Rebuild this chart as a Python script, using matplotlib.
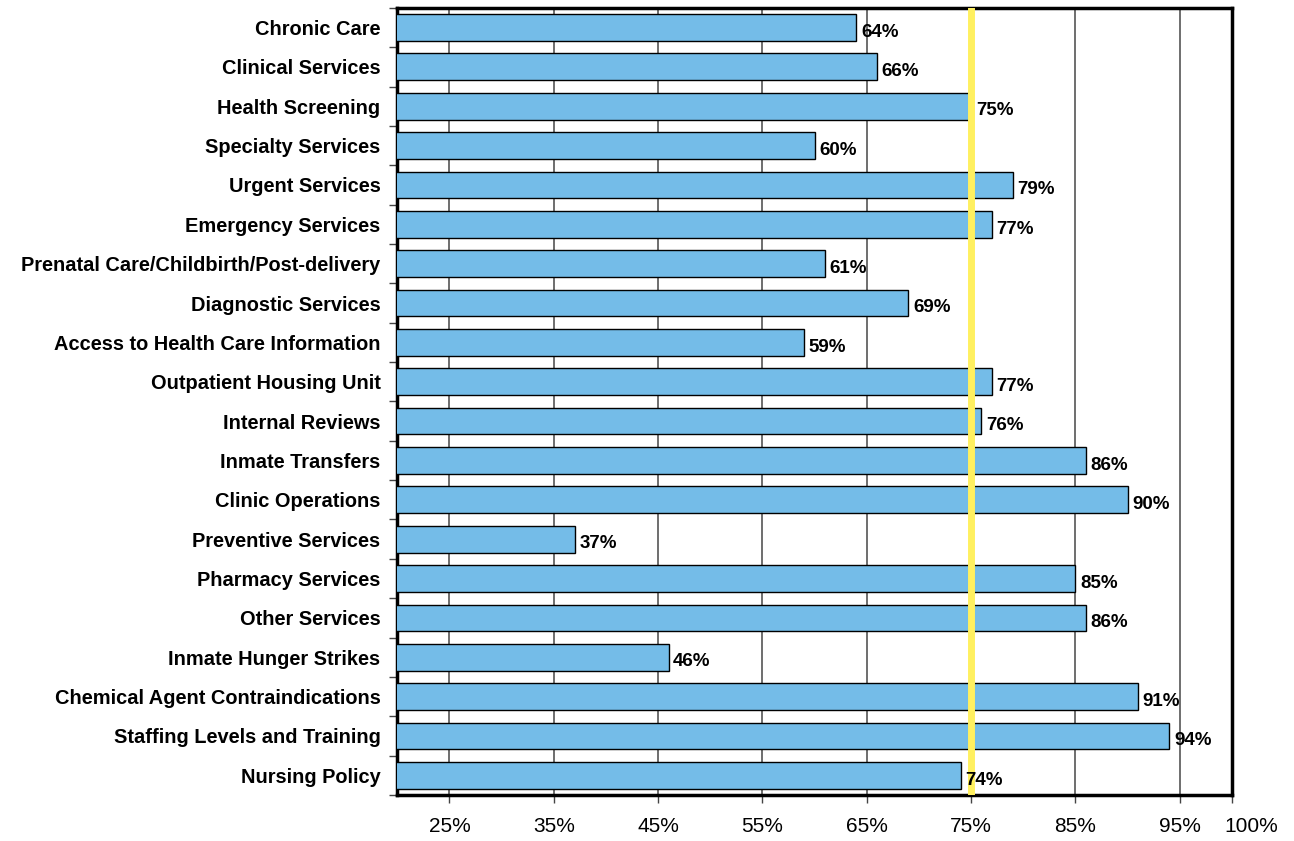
import numpy as np
import matplotlib.pyplot as plt
import matplotlib.transforms as mtransforms

categories = ['Chronic Care', 'Clinical Services', 'Health Screening', 'Specialty Services',
              'Urgent Services', 'Emergency Services', 'Prenatal Care/Childbirth/Post-delivery',
              'Diagnostic Services', 'Access to Health Care Information', 'Outpatient Housing Unit',
              'Internal Reviews', 'Inmate Transfers', 'Clinic Operations', 'Preventive Services',
              'Pharmacy Services', 'Other Services', 'Inmate Hunger Strikes',
              'Chemical Agent Contraindications', 'Staffing Levels and Training', 'Nursing Policy']
scores = [64, 66, 75, 60, 79, 77, 61, 69, 59, 77, 76, 86, 90, 37, 85, 86, 46, 91, 94, 74]
xticks = [25, 35, 45, 55, 65, 75, 85, 95, 100]
threshold = 75

plt.rcParams['font.family'] = ['Liberation Sans', 'DejaVu Sans']

fig = plt.figure(figsize=(12.94, 8.41), dpi=100)
ax = fig.add_axes([0.307, 0.0547, 0.645, 0.936])

y = np.arange(len(categories))
ax.barh(y, scores, height=0.68, color='#74BCE8', edgecolor='black', linewidth=1.0, zorder=3)
ax.axvline(threshold, color='#FFF060', linewidth=5, zorder=4)
for yi, v in zip(y, scores):
    ax.text(v + 0.45, yi + 0.12, f'{v}%', va='center', ha='left', fontsize=13.5,
            fontweight='bold', zorder=5)

ax.set_xlim(20, 100)
ax.set_ylim(len(categories) - 0.5, -0.5)
ax.set_xticks(xticks)
ax.set_xticklabels([f'{t}%' for t in xticks], fontsize=15)
ax.set_yticks(y)
ax.set_yticklabels(categories, fontsize=14.4, fontweight='bold')
ax.set_yticks(np.arange(len(categories) + 1) - 0.5, minor=True)
ax.tick_params(axis='y', which='major', length=0, pad=12)
ax.tick_params(axis='y', which='minor', length=6, width=1, color='#444444')
ax.tick_params(axis='x', length=6, width=1, pad=10, color='#444444')

# the 100% label sits a bit right of its tick, as in the original
lbl = ax.get_xticklabels()[-1]
lbl.set_transform(lbl.get_transform() + mtransforms.ScaledTranslation(0.19, 0, fig.dpi_scale_trans))

ax.xaxis.grid(True, color='#555555', linewidth=1.2, zorder=0)
ax.set_axisbelow(True)
for s in ax.spines.values():
    s.set_linewidth(2.5)

fig.savefig('out.png', dpi=100)
